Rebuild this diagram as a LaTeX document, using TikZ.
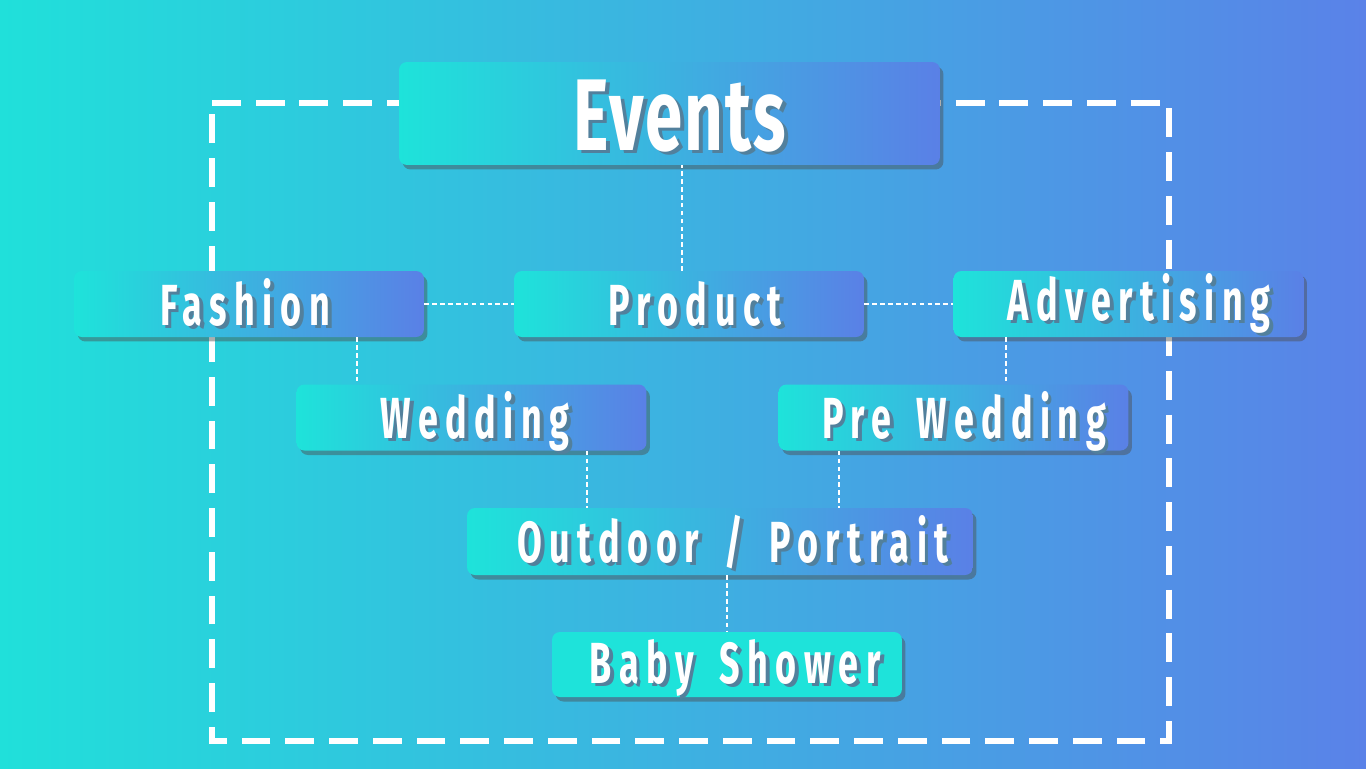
\documentclass[tikz,border=0pt]{standalone}
\usepackage{fontspec}
\usetikzlibrary{shadows}
\newfontfamily\boxfont{Fira Sans}[FakeStretch=0.62,LetterSpace=13,WordSpace=1.6]
\newfontfamily\titlefont{Fira Sans}[FakeStretch=0.66,LetterSpace=2]
\definecolor{cyanc}{HTML}{1EE3DA}
\definecolor{bluec}{HTML}{5A80E6}
\definecolor{bgl}{HTML}{20E0DA}
\definecolor{bgr}{HTML}{5A82E8}
\definecolor{shadowc}{HTML}{52809C}
\newcommand\shtxt[1]{\rlap{\kern2.2pt\raisebox{-1.8pt}{\color{shadowc}#1}}#1}
\tikzset{
  boxbase/.style={rounded corners=4.5pt, inner sep=0pt, draw=none,
    drop shadow={shadow xshift=0.07cm, shadow yshift=-0.09cm, opacity=0.45, fill=black!70}},
  gbox/.style={boxbase, left color=cyanc, right color=bluec},
  sbox/.style={gbox, minimum width=7cm, minimum height=1.32cm},
  lbl/.style={anchor=base, text=white, font=\boxfont\bfseries\fontsize{33}{36}\selectfont, inner sep=0pt},
  conn/.style={white, line width=1pt, dash pattern=on 2.6pt off 1.9pt},
}
\begin{document}
\begin{tikzpicture}[x=0.02cm, y=-0.02cm]
\useasboundingbox (0,0) rectangle (1366,768);
\shade[left color=bgl, right color=bgr] (0,0) rectangle (1366,768);
\draw[white, line width=3.4pt, dash pattern=on 16.4pt off 8.5pt] (212,103) -- (1169,103) -- (1169,741) -- (212,741) -- cycle;

% boxes
\node[gbox, minimum width=10.82cm, minimum height=2.06cm] (events) at (669.5,113.5) {};
\node[sbox] (fashion) at (249,304) {};
\node[sbox] (product) at (689,304) {};
\node[sbox] (advert) at (1128.5,304) {};
\node[sbox] (wedding) at (471.5,417.5) {};
\node[sbox] (prewed) at (953.5,417.5) {};
\node[gbox, minimum width=10.12cm, minimum height=1.34cm] (outdoor) at (720,541.5) {};
\node[boxbase, fill=cyanc, minimum width=7cm, minimum height=1.3cm] (baby) at (727,664.5) {};

% labels
\node[lbl, font=\titlefont\bfseries\fontsize{58}{60}\selectfont] (events-t) at (680,150) {\shtxt{Events}};
\node[lbl] (fashion-t) at (245,325) {\shtxt{Fashion}};
\node[lbl] (product-t) at (695,325) {\shtxt{Product}};
\node[lbl] (advert-t) at (1139,320) {\shtxt{Advertising}};
\node[lbl] (wedding-t) at (475,438) {\shtxt{Wedding}};
\node[lbl] (prewed-t) at (964,438) {\shtxt{Pre Wedding}};
\node[lbl] (outdoor-t) at (733,562) {\shtxt{Outdoor / Portrait}};
\node[lbl] (baby-t) at (735,683) {\shtxt{Baby Shower}};

% connectors
\draw[conn] ([xshift=-0.14cm]product.north) -- ([xshift=-0.14cm]product.north |- events.south);
\draw[conn] (fashion.east) -- (product.west);
\draw[conn] (product.east) -- (advert.west);
\draw[conn] ([xshift=2.16cm]fashion.south) -- ([xshift=2.16cm]fashion.south |- wedding.north);
\draw[conn] ([xshift=-2.45cm]advert.south) -- ([xshift=-2.45cm]advert.south |- prewed.north);
\draw[conn] ([xshift=2.31cm]wedding.south) -- ([xshift=2.31cm]wedding.south |- outdoor.north);
\draw[conn] ([xshift=-2.29cm]prewed.south) -- ([xshift=-2.29cm]prewed.south |- outdoor.north);
\draw[conn] (outdoor.south -| baby.north) -- (baby.north);
\end{tikzpicture}
\end{document}
